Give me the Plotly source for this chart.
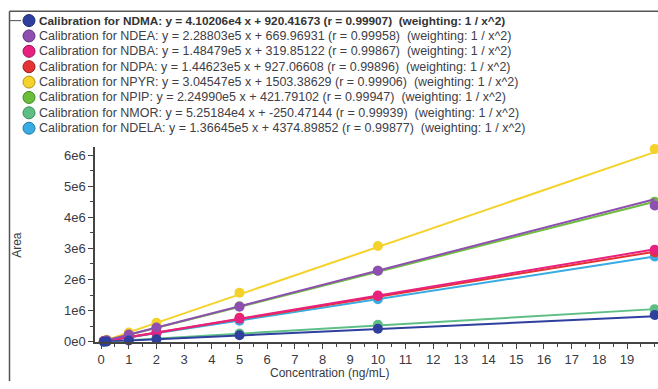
import plotly.graph_objects as go

W, H = 658, 389

# ---- data ----
compounds = ["NDMA", "NDEA", "NDBA", "NDPA", "NPYR", "NPIP", "NMOR", "NDELA"]
slopes = ["4.10206e4", "2.28803e5", "1.48479e5", "1.44623e5", "3.04547e5", "2.24990e5", "5.25184e4", "1.36645e5"]
intercepts = ["920.41673", "669.96931", "319.85122", "927.06608", "1503.38629", "421.79102", "-250.47144", "4374.89852"]
r_values = ["0.99907", "0.99958", "0.99867", "0.99896", "0.99906", "0.99947", "0.99939", "0.99877"]
colors = ["#2f3f9e", "#8e4fb0", "#e8207e", "#e53232", "#f5d22a", "#6cbd3c", "#5ebf86", "#3aabe2"]
edge_colors = ["#1c2a70", "#5e2f7e", "#a01258", "#a01c1c", "#b09418", "#3f8a20", "#3a8a58", "#1f7aa8"]

conc = [0.1, 0.2, 1, 2, 5, 10, 20]
areas = {
    "NDMA":  [5.0e3, 9.0e3, 4.3e4, 8.5e4, 2.10e5, 4.20e5, 8.6e5],
    "NDEA":  [2.4e4, 4.7e4, 2.33e5, 4.60e5, 1.13e6, 2.28e6, 4.38e6],
    "NDBA":  [1.5e4, 3.0e4, 1.50e5, 2.98e5, 7.40e5, 1.49e6, 2.96e6],
    "NDPA":  [1.55e4, 3.0e4, 1.47e5, 2.95e5, 7.70e5, 1.47e6, 2.88e6],
    "NPYR":  [3.2e4, 6.3e4, 3.00e5, 6.10e5, 1.58e6, 3.08e6, 6.19e6],
    "NPIP":  [2.3e4, 4.6e4, 2.25e5, 4.55e5, 1.14e6, 2.28e6, 4.50e6],
    "NMOR":  [5.0e3, 1.0e4, 5.2e4, 1.05e5, 2.65e5, 5.50e5, 1.05e6],
    "NDELA": [1.8e4, 3.2e4, 1.40e5, 2.80e5, 6.80e5, 1.37e6, 2.74e6],
}

xtick_vals = list(range(0, 20))
ytick_vals = [0, 1e6, 2e6, 3e6, 4e6, 5e6, 6e6]
ytick_labels = ["0e0", "1e6", "2e6", "3e6", "4e6", "5e6", "6e6"]
x_title = "Concentration (ng/mL)"
y_title = "Area"

# ---- figure ----
fig = go.Figure()
TXT = "#3a3a44"

line_x = [min(conc), max(conc)]
for i in reversed(range(len(compounds))):
    name = compounds[i]
    s = float(slopes[i]); b = float(intercepts[i])
    fig.add_trace(go.Scatter(
        x=line_x, y=[s * x + b for x in line_x], mode="lines",
        line=dict(color=colors[i], width=2), showlegend=False, hoverinfo="skip"))
    fig.add_trace(go.Scatter(
        x=conc, y=areas[name], mode="markers", cliponaxis=False,
        marker=dict(color=colors[i], size=10, line=dict(width=0)),
        showlegend=False, name=name))

# plot area in pixels
L, R, T, B = 95, 658, 150, 349
fig.update_layout(
    width=W, height=H, margin=dict(l=0, r=0, t=0, b=0),
    paper_bgcolor="white", plot_bgcolor="white", showlegend=False,
    font=dict(family="Liberation Sans, Arial, sans-serif", size=13, color=TXT),
    xaxis=dict(domain=[L / W, R / W], range=[-0.22, 20.12], tickvals=xtick_vals,
               showgrid=False, zeroline=False, showline=True, linecolor="#444", linewidth=1.5,
               ticks="outside", ticklen=5, tickwidth=1.2, tickcolor="#444",
               minor=dict(dtick=0.5, ticks="outside", ticklen=3, tickcolor="#444", showgrid=False),
               tickfont=dict(size=13, color=TXT)),
    yaxis=dict(domain=[1 - B / H, 1 - T / H], range=[0, 6.26e6], tickvals=ytick_vals, ticktext=ytick_labels,
               showgrid=False, zeroline=False, showline=True, linecolor="#444", linewidth=1.5,
               ticks="outside", ticklen=5, tickwidth=1.2, tickcolor="#444",
               minor=dict(dtick=5e5, ticks="outside", ticklen=3, tickcolor="#444", showgrid=False),
               tickfont=dict(size=13, color=TXT)),
)

shapes = []
annotations = []
# frame lines
shapes.append(dict(type="line", xref="paper", yref="paper", x0=9.5 / W, x1=1, y0=1 - 11.5 / H, y1=1 - 11.5 / H,
                   line=dict(color="#555", width=1.5)))
shapes.append(dict(type="line", xref="paper", yref="paper", x0=9.5 / W, x1=9.5 / W, y0=0, y1=1 - 11.5 / H,
                   line=dict(color="#555", width=1.5)))
shapes.append(dict(type="line", xref="paper", yref="paper", x0=10 / W, x1=21 / W, y0=1 - 21 / H, y1=1 - 21 / H,
                   line=dict(color="#666", width=1.2)))

row0, dy = 21, 15.7
NB = "\u00a0"
for i, name in enumerate(compounds):
    yc = row0 + i * dy
    shapes.append(dict(type="circle", xref="paper", yref="paper", xsizemode="pixel", ysizemode="pixel",
                       xanchor=29 / W, yanchor=1 - yc / H, x0=-6, x1=6, y0=-6, y1=6,
                       fillcolor=colors[i], line=dict(color=edge_colors[i], width=1)))
    txt = (f"Calibration for {name}: y = {slopes[i]} x + {intercepts[i]} (r = {r_values[i]})"
           f"{NB}{NB}(weighting: 1 / x^2)")
    if i == 0:
        txt = f"<b>{txt}</b>"
    annotations.append(dict(x=37 / W, y=1 - yc / H, xref="paper", yref="paper", text=txt,
                            showarrow=False, xanchor="left", yanchor="middle",
                            font=dict(size=11.8 if i == 0 else 12.5, color="#333" if i == 0 else "#404048")))

annotations.append(dict(x=17 / W, y=1 - 250 / H, xref="paper", yref="paper", text=y_title, textangle=-90,
                        showarrow=False, xanchor="center", yanchor="middle", font=dict(size=12, color=TXT)))
annotations.append(dict(x=329 / W, y=1 - 381 / H, xref="paper", yref="paper", text=x_title,
                        showarrow=False, xanchor="center", yanchor="middle", font=dict(size=12, color=TXT)))

fig.update_layout(shapes=shapes, annotations=annotations)
fig.write_html("out.html")
